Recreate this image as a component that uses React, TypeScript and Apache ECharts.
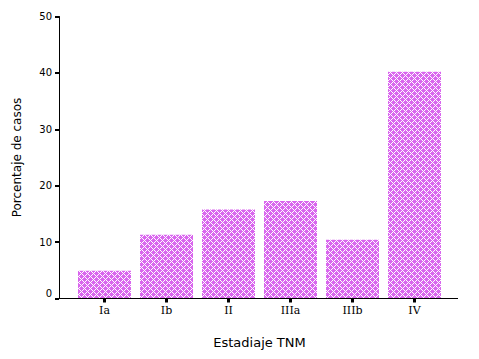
import React, { useEffect, useRef } from "react";
import * as echarts from "echarts";

const categories = ["Ia", "Ib", "II", "IIIa", "IIIb", "IV"];
const values = [4.9, 11.3, 15.8, 17.3, 10.4, 40.2];
const yTicks = [0, 10, 20, 30, 40, 50];

function makePattern() {
  const c = document.createElement("canvas");
  c.width = 6;
  c.height = 6;
  const ctx = c.getContext("2d")!;
  ctx.fillStyle = "#d966ee";
  ctx.fillRect(0, 0, 6, 6);
  ctx.fillStyle = "#ffffff";
  for (let x = 0; x < 6; x++) {
    for (let y = 0; y < 6; y++) {
      if ((x + y) % 6 === 0 || (x - y + 6) % 6 === 0) ctx.fillRect(x, y, 1, 1);
    }
  }
  return c;
}

export default function App() {
  const ref = useRef<HTMLDivElement>(null);
  useEffect(() => {
    const chart = echarts.init(ref.current!, null, { renderer: "svg" });
    const pat = makePattern();
    chart.setOption({
      animation: false,
      backgroundColor: "#ffffff",
      textStyle: { fontFamily: "DejaVu Sans" },
      grid: { left: 73.5, top: 16.5, width: 372, height: 282 },
      xAxis: {
        type: "category",
        data: categories,
        boundaryGap: true,
        name: "Estadiaje TNM",
        nameLocation: "middle",
        nameGap: 37,
        nameTextStyle: { fontSize: 13, color: "#000" },
        axisLine: { show: false },
        axisTick: { show: true, alignWithLabel: true, length: 4, lineStyle: { color: "#000", width: 3 } },
        axisLabel: { color: "#000", fontSize: 11, fontFamily: "DejaVu Serif", margin: 6 },
      },
      yAxis: {
        type: "value",
        min: yTicks[0],
        max: yTicks[yTicks.length - 1],
        interval: 10,
        offset: 14.5,
        name: "Porcentaje de casos",
        nameLocation: "middle",
        nameGap: 36,
        nameTextStyle: { fontSize: 12, color: "#000" },
        splitLine: { show: false },
        axisLine: { show: true, lineStyle: { color: "#000", width: 1 } },
        axisTick: { show: true, length: 4, lineStyle: { color: "#000", width: 2 } },
        axisLabel: {
          color: "#000",
          fontSize: 10,
          margin: 7,
          formatter: (v: number) => (v === 0 ? "{z|0}" : String(v)),
          rich: { z: { fontSize: 10, color: "#000", padding: [0, 0, 10, 0] } },
        },
      },
      graphic: [
        {
          type: "line",
          shape: { x1: 59, y1: 298.5, x2: 458, y2: 298.5 },
          style: { stroke: "#000", lineWidth: 1 },
          z: 10,
        },
      ],
      series: [
        {
          type: "bar",
          data: values,
          barWidth: 53,
          itemStyle: {
            color: { image: pat, repeat: "repeat", imageWidth: 6, imageHeight: 6 } as any,
          },
        },
      ],
    });
    return () => chart.dispose();
  }, []);
  return <div ref={ref} style={{ width: 479, height: 359, position: "absolute", left: 0, top: 0 }} />;
}
